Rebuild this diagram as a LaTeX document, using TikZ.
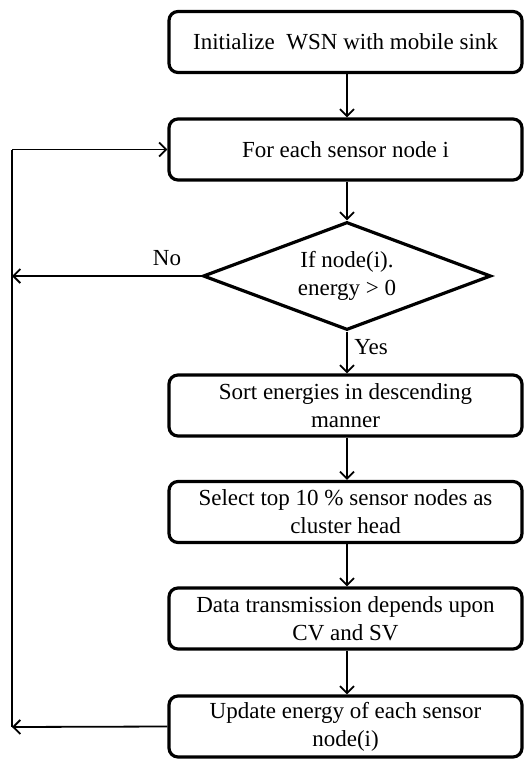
\documentclass[tikz,border=0pt]{standalone}
\usepackage{fontspec}
\setmainfont{Liberation Serif}
\usetikzlibrary{shapes.geometric,arrows.meta}
\begin{document}
\begin{tikzpicture}[x=1pt,y=-1pt,
  font=\fontsize{23}{28}\selectfont,
  procbox/.style={draw, line width=3.2pt, rounded corners=9pt, minimum width=353pt, minimum height=61pt, inner sep=0pt, align=center},
  decision/.style={draw, diamond, line width=3.2pt, minimum width=288pt, minimum height=108pt, aspect=2.6, inner sep=0pt, align=center},
  arr/.style={line width=1.8pt, -{Straight Barb[length=7pt,width=14pt,line width=1.8pt]}},
  plain/.style={line width=1.8pt},
  lbl/.style={inner sep=0pt}]
\useasboundingbox (0,0) rectangle (524,760);
\node[procbox] (b1) at (345.5,42) {Initialize\ \ WSN with\ mobile sink};
\node[procbox] (b2) at (345.5,149.5) {For each sensor node i};
\node[decision] (d) at (347,276) {If node(i).\\energy > 0};
\node[procbox] (b3) at (345.5,405.5) {Sort energies in descending\\manner};
\node[procbox] (b4) at (345.5,512) {Select top 10 \% sensor nodes as\\cluster head};
\node[procbox] (b5) at (345.5,618.5) {Data transmission depends upon\\CV and SV};
\node[procbox] (b6) at (345.5,726.5) {Update energy of each sensor\\node(i)};
\coordinate (L1) at (12,149.5);
\coordinate (L2) at (12,276);
\coordinate (L3) at (12,727);
\draw[arr] (b1.south -| d.north) -- (b2.north -| d.north);
\draw[arr] (b2.south -| d.north) -- (d.north);
\draw[arr] (d.south) -- (b3.north -| d.south);
\draw[arr] (b3.south -| d.south) -- (b4.north -| d.south);
\draw[arr] (b4.south -| d.south) -- (b5.north -| d.south);
\draw[arr] (b5.south -| d.south) -- (b6.north -| d.south);
\draw[arr] (b6.west) -- (L3);
\draw[plain] (L3) -- (L1);
\draw[arr] (L1) -- (b2.west);
\draw[arr] (d.west) -- (L2);
\node[lbl] (no) at (167,258) {No};
\node[lbl] (yes) at (371,347) {Yes};
\end{tikzpicture}
\end{document}
